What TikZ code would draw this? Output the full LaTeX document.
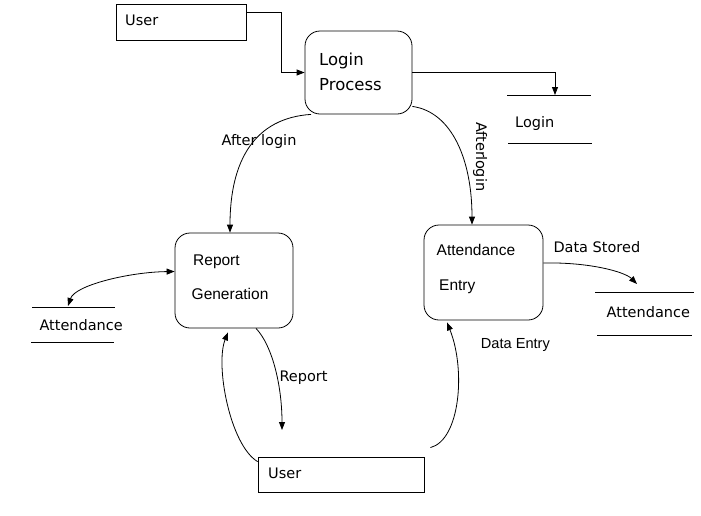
\documentclass[tikz,border=0pt]{standalone}
\usepackage{fontspec}
\setmainfont{DejaVu Sans}
\newfontfamily\arialfam{Liberation Sans}
\usetikzlibrary{arrows.meta}
\newcommand\txtdv{\fontsize{14.5pt}{17pt}\selectfont}
\newcommand\txtbig{\fontsize{16.5pt}{19pt}\selectfont}
\newcommand\txtar{\arialfam\fontsize{15.5pt}{18pt}\selectfont}
\newcommand\txtars{\arialfam\fontsize{14.6pt}{17pt}\selectfont}
\begin{document}
\begin{tikzpicture}[x=1pt,y=-1pt,
  extbox/.style={draw, line width=0.8pt, inner sep=0pt},
  procbox/.style={draw, rounded corners=15pt, line width=0.8pt, inner sep=0pt},
  lbl/.style={inner sep=0pt, anchor=base west},
  flow/.style={line width=0.8pt, -{Triangle[length=8pt,width=6pt]}},
  bflow/.style={line width=0.8pt, {Triangle[length=8pt,width=6pt]}-{Triangle[length=8pt,width=6pt]}},
  storeline/.style={line width=0.8pt}]
\useasboundingbox (0,0) rectangle (701,515);

% boxes
\node[extbox, minimum width=130pt, minimum height=36pt] (usertop) at (181,22) {};
\node[procbox, minimum width=107pt, minimum height=83pt] (login) at (358.5,72.5) {};
\node[procbox, minimum width=118pt, minimum height=95pt] (report) at (234,280.5) {};
\node[procbox, minimum width=119pt, minimum height=95pt] (attentry) at (483.5,272.5) {};
\node[extbox, minimum width=166pt, minimum height=35pt] (userbot) at (341,474.5) {};

% texts in boxes
\node[lbl, font=\txtdv] (tusertop) at (125,25) {User};
\node[lbl, font=\txtbig] (tlogin1) at (319,65) {Login};
\node[lbl, font=\txtbig] (tlogin2) at (319,90.5) {Process};
\node[lbl, font=\txtar] (trep1) at (193,265) {Report};
\node[lbl, font=\txtar] (trep2) at (191.5,299) {Generation};
\node[lbl, font=\txtar] (tatt1) at (436.5,255.5) {Attendance};
\node[lbl, font=\txtar] (tatt2) at (439,290) {Entry};
\node[lbl, font=\txtdv] (tuserbot) at (268,478.3) {User};

% data stores
\draw[storeline] (507,95) -- (591,95);
\draw[storeline] (508,143) -- (592,143);
\node[lbl, font=\txtdv] (tloginstore) at (515,127.3) {Login};
\coordinate (loginin) at (555,95);

\draw[storeline] (32,307) -- (115,307);
\draw[storeline] (31,342) -- (114,342);
\node[lbl, font=\txtdv] (tleftstore) at (39.3,330) {Attendance};
\coordinate (leftstorein) at (68,306);

\draw[storeline] (595,292) -- (694,292);
\draw[storeline] (597,335) -- (692,335);
\node[lbl, font=\txtdv] (trightstore) at (606.5,317.7) {Attendance};
\coordinate (rightstorein) at (637,284);

% connector labels
\node[lbl, font=\txtdv] (lafter1) at (221.5,145) {After login};
\node[lbl, font=\txtdv, rotate=-90] (lafter2) at (476,122) {After\kern-1pt login};
\node[lbl, font=\txtdv] (lstored) at (553.3,252.3) {Data Stored};
\node[lbl, font=\txtdv] (lreport) at (279.3,381) {Report};
\node[lbl, font=\txtars] (lentry) at (480.7,348.3) {Data Entry};

% connectors
\draw[flow] ([yshift=9.5pt]usertop.east) -- ++(35,0) |- (login.west);
\draw[flow] (login.east) -| (loginin);
\draw[flow] ([xshift=-47.5pt]login.south) .. controls (255,118) and (230,160) .. ([xshift=-4pt]report.north);
\draw[flow] ([yshift=8pt]login.south east) .. controls (452,112) and (472,160) .. ([xshift=-11.5pt]attentry.north);
\draw[bflow] ([yshift=9pt]report.west) .. controls (130,272) and (75,285) .. (leftstorein);
\draw[flow] ([yshift=9.5pt]attentry.east) .. controls (590,262) and (625,272) .. (rightstorein);
\coordinate (repend) at (282,430);
\draw[flow] ([xshift=22pt]report.south) .. controls (272,345) and (282,385) .. (repend);
\draw[flow] ([yshift=-5pt]userbot.north west) .. controls (230,445) and (215,365) .. ([xshift=-6pt,yshift=-4pt]report.south);
\draw[flow] ([xshift=6pt,yshift=9pt]userbot.north east) .. controls (460,440) and (466,370) .. ([xshift=-36.5pt,yshift=-2pt]attentry.south);
\end{tikzpicture}
\end{document}
